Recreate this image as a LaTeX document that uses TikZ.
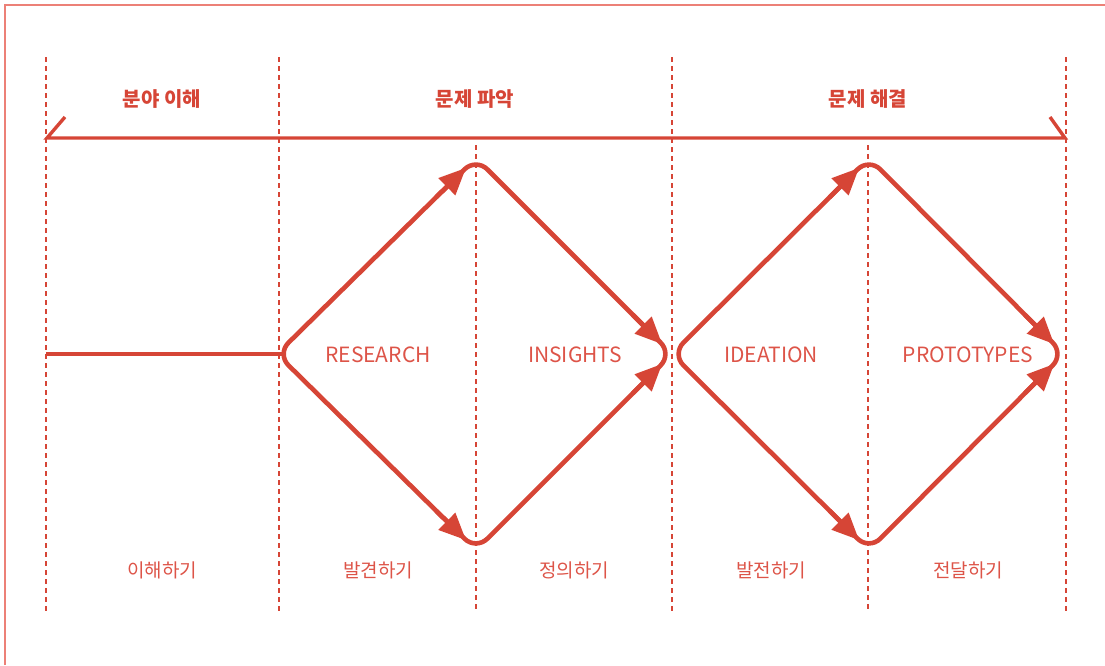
\documentclass[tikz,border=0pt]{standalone}
\usepackage{fontspec}
\setmainfont{Noto Sans CJK KR}
\usetikzlibrary{arrows.meta,calc}
\definecolor{dtred}{HTML}{D64536}
\definecolor{dttext}{HTML}{DD5448}
\definecolor{dtframe}{HTML}{EC8077}
\begin{document}
\begin{tikzpicture}[x=1pt,y=-1pt,
  guide/.style={draw=dtred, line width=2.6pt, dash pattern=on 4.5pt off 4.5pt},
  flow/.style={draw=dtred, line width=4.6pt, rounded corners=16pt},
  flowtip/.style={draw=dtred, line width=4.6pt, -{Triangle[length=27pt,width=23pt]}},
  bracket/.style={draw=dtred, line width=3.4pt},
  head/.style={text=dtred, font=\bfseries\fontsize{20}{22}\selectfont, inner sep=0pt},
  phase/.style={text=dttext, font=\fontsize{21}{24}\selectfont, inner sep=0pt},
  act/.style={text=dttext, font=\fontsize{19}{22}\selectfont, inner sep=0pt}]
\useasboundingbox (0,0) rectangle (1105,665);
% frame
\draw[dtframe, line width=1.5pt] (5,665) -- (5,5) -- (1105,5);
% guides
\foreach \x/\y/\n in {46/57/g0,279/57/g1,476/145/g2,672/57/g3,868/145/g4,1066/57/g5}{
  \coordinate (\n t) at (\x,\y);
  \coordinate (\n b) at (\x,612);
  \draw[guide] (\n t) -- (\n b);
}
% top bracket
\coordinate (bl) at (47,138);
\coordinate (br) at (1065,138);
\coordinate (tkl) at (65,117);
\coordinate (tkr) at (1050,117);
\draw[bracket] (tkl) -- (bl) -- (br) -- (tkr);
\node[head] (h1) at (162,99) {분야 이해};
\node[head] (h2) at (475,99) {문제 파악};
\node[head] (h3) at (868,99) {문제 해결};
% diamonds
\coordinate (L1) at (277,354);
\coordinate (T1) at (476,158);
\coordinate (R1) at (672,354);
\coordinate (B1) at (476,550);
\coordinate (T2) at (869,158);
\coordinate (R2) at (1064,354);
\coordinate (B2) at (869,550);
\coordinate (S) at (46,354);
\coordinate (J) at (283,354);
\draw[draw=dtred, line width=4.6pt] (S) -- (J);
\draw[flow] (L1) -- (T1) -- (R1) -- (B1) -- cycle;
\draw[flow] (R1) -- (T2) -- (R2) -- (B2) -- cycle;
% arrow heads
\draw[flowtip] ($(L1)!0.80!(T1)$) -- ($(L1)!0.95!(T1)$);
\draw[flowtip] ($(T1)!0.80!(R1)$) -- ($(T1)!0.95!(R1)$);
\draw[flowtip] ($(L1)!0.80!(B1)$) -- ($(L1)!0.95!(B1)$);
\draw[flowtip] ($(B1)!0.80!(R1)$) -- ($(B1)!0.95!(R1)$);
\draw[flowtip] ($(R1)!0.80!(T2)$) -- ($(R1)!0.95!(T2)$);
\draw[flowtip] ($(T2)!0.80!(R2)$) -- ($(T2)!0.95!(R2)$);
\draw[flowtip] ($(R1)!0.80!(B2)$) -- ($(R1)!0.95!(B2)$);
\draw[flowtip] ($(B2)!0.80!(R2)$) -- ($(B2)!0.95!(R2)$);
% phase labels
\node[phase] (p1) at (378,355) {RESEARCH};
\node[phase] (p2) at (575,355) {INSIGHTS};
\node[phase] (p3) at (771,355) {IDEATION};
\node[phase] (p4) at (968,355) {PROTOTYPES};
% activity labels
\node[act] (a0) at (162,570) {이해하기};
\node[act] (a1) at (378,570) {발견하기};
\node[act] (a2) at (574,570) {정의하기};
\node[act] (a3) at (771,570) {발전하기};
\node[act] (a4) at (968,570) {전달하기};
\end{tikzpicture}
\end{document}
